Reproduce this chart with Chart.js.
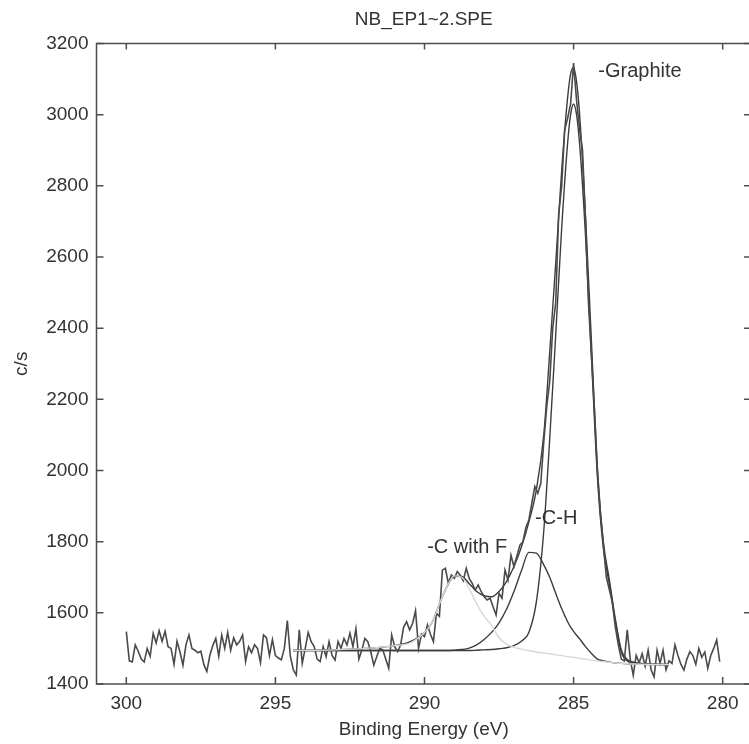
<!DOCTYPE html>
<html>
<head>
<meta charset="utf-8">
<script src="https://cdn.jsdelivr.net/npm/chart.js@4/dist/chart.umd.min.js"></script>
<style>
  html, body { margin: 0; padding: 0; background: #fff; overflow: hidden; }
  #wrap { width: 760px; height: 744px; }
</style>
</head>
<body>
<div id="wrap"><canvas id="speChart" width="760" height="744"></canvas></div>
<script>
// measured spectrum, 300.0 eV down to 280.1 eV in 0.1 eV steps
const rawStart = 300.0;
const rawStep = 0.1;
const rawCounts = [
  1547, 1465, 1462, 1510, 1492, 1470, 1462, 1500, 1478, 1542,
  1515, 1550, 1520, 1548, 1505, 1500, 1455, 1520, 1490, 1453,
  1510, 1538, 1500, 1495, 1488, 1492, 1455, 1435, 1480, 1508,
  1528, 1478, 1538, 1500, 1545, 1495, 1530, 1510, 1520, 1538,
  1463, 1505, 1488, 1510, 1500, 1460, 1538, 1530, 1480, 1525,
  1480, 1473, 1468, 1500, 1578, 1478, 1440, 1425, 1552, 1458,
  1500, 1545, 1519, 1505, 1470, 1463, 1505, 1477, 1519, 1480,
  1467, 1519, 1500, 1528, 1510, 1543, 1505, 1555, 1470, 1496,
  1528, 1519, 1490, 1453, 1477, 1500, 1496, 1470, 1444, 1538,
  1505, 1491, 1510, 1560, 1575, 1552, 1570, 1606, 1500, 1540,
  1533, 1566, 1540, 1519, 1599, 1590, 1720, 1725, 1683, 1706,
  1697, 1716, 1706, 1690, 1725, 1697, 1683, 1664, 1678, 1660,
  1645, 1636, 1641, 1617, 1594, 1655, 1641, 1720, 1692, 1762,
  1730, 1760, 1790, 1800, 1840, 1861, 1908, 1955, 1936, 1964,
  2080, 2180, 2250, 2400, 2470, 2720, 2800, 2957, 2990, 3030,
  3145, 3040, 2960, 2900, 2700, 2470, 2320, 2170, 2000, 1880,
  1790, 1700, 1665, 1630, 1560, 1510, 1470, 1465, 1552, 1470,
  1425, 1480, 1460, 1485, 1450, 1495, 1440, 1420, 1495, 1458,
  1495, 1440, 1465, 1458, 1510, 1480, 1455, 1439, 1470, 1491,
  1480, 1455, 1500, 1475, 1490, 1444, 1480, 1500, 1524, 1463
];

// fit curves, sampled at these energies
const fitEnergy = [
  294.4, 293, 292, 291, 290.5, 290, 289.75, 289.5, 289.25, 289,
  288.75, 288.5, 288.25, 288, 287.75, 287.5, 287.25, 287, 286.75, 286.5,
  286.25, 286, 285.8, 285.6, 285.4, 285.2, 285.1, 285, 284.9, 284.8,
  284.6, 284.4, 284.2, 284, 283.8, 283.6, 283.4, 283.2, 283, 282.5,
  282, 281.8
];
const envelope = [
  1494, 1496, 1500, 1508, 1518, 1545, 1572, 1625, 1673, 1703,
  1702, 1682, 1660, 1648, 1645, 1660, 1688, 1730, 1785, 1855,
  1945, 2100, 2333, 2581, 2842, 3048, 3114, 3133, 3093, 3003,
  2716, 2359, 2003, 1798, 1693, 1583, 1496, 1469, 1462, 1456,
  1455, 1455
];
const graphitePeak = [
  1494, 1494, 1494, 1494, 1494, 1494, 1494, 1494, 1494, 1494,
  1494, 1494, 1495, 1496, 1497, 1499, 1502, 1508, 1520, 1545,
  1630, 1830, 2090, 2380, 2680, 2920, 3000, 3030, 3000, 2920,
  2660, 2320, 1980, 1780, 1680, 1575, 1490, 1465, 1460, 1456,
  1455, 1455
];
const chPeak = [
  1494, 1494, 1494, 1494, 1494, 1494, 1494, 1494, 1494, 1495,
  1497, 1501, 1510, 1525, 1545, 1572, 1610, 1660, 1718, 1770,
  1768, 1735, 1700, 1655, 1612, 1575, 1560, 1548, 1537, 1527,
  1505, 1486, 1470, 1465, 1462, 1459, 1458, 1457, 1456, 1455,
  1455, 1455
];
const cfPeak = [
  1494, 1496, 1500, 1508, 1515, 1545, 1572, 1625, 1673, 1704,
  1700, 1668, 1625, 1590, 1565, 1530, 1512, 1503, 1498, 1494,
  1490, 1487, 1485, 1482, 1480, 1477, 1476, 1475, 1474, 1472,
  1470, 1467, 1465, 1463, 1461, 1459, 1458, 1457, 1456, 1455,
  1455, 1455
];

const xTicks = [300, 295, 290, 285, 280];
const yTicks = [1400, 1600, 1800, 2000, 2200, 2400, 2600, 2800, 3000, 3200];

const peakNames = ["-Graphite", "-C-H", "-C with F"];
const peakNameEnergy = [284.17, 286.29, 289.91];
const peakNameCounts = [3122, 1864, 1784];

const FONT = "'Liberation Sans', Arial, sans-serif";
const INK = "#333";
const LINE = "#4a4a4a";

const toPoints = (xs, ys) => ys.map((v, i) => ({ x: xs[i], y: v }));
const rawPoints = rawCounts.map((v, i) => ({
  x: +(rawStart - i * rawStep).toFixed(1),
  y: v,
}));

// box, inward ticks on all four sides, and the peak names
const framePlugin = {
  id: "frame",
  afterDatasetsDraw(chart) {
    const { ctx, chartArea: a } = chart;
    const xs = chart.scales.x;
    const ys = chart.scales.y;
    ctx.save();
    ctx.strokeStyle = "#4d4d4d";
    ctx.lineWidth = 1.5;
    ctx.strokeRect(a.left, a.top, a.right - a.left, a.bottom - a.top);
    ctx.beginPath();
    xTicks.forEach((v) => {
      const px = xs.getPixelForValue(v);
      ctx.moveTo(px, a.bottom);
      ctx.lineTo(px, a.bottom - 7);
      ctx.moveTo(px, a.top);
      ctx.lineTo(px, a.top + 6);
    });
    yTicks.forEach((v) => {
      const py = ys.getPixelForValue(v);
      ctx.moveTo(a.left, py);
      ctx.lineTo(a.left + 7, py);
      ctx.moveTo(a.right, py);
      ctx.lineTo(a.right - 7, py);
    });
    ctx.stroke();

    ctx.fillStyle = INK;
    ctx.font = "20px " + FONT;
    ctx.textAlign = "left";
    ctx.textBaseline = "middle";
    peakNames.forEach((t, i) => {
      ctx.fillText(
        t,
        xs.getPixelForValue(peakNameEnergy[i]),
        ys.getPixelForValue(peakNameCounts[i])
      );
    });
    ctx.restore();
  },
};

const fitLine = (data, color) => ({
  data,
  borderColor: color,
  borderWidth: 1.4,
  pointRadius: 0,
  cubicInterpolationMode: "monotone",
  fill: false,
});

new Chart(document.getElementById("speChart"), {
  type: "line",
  data: {
    datasets: [
      fitLine(toPoints(fitEnergy, cfPeak), "#d8d8d8"),
      {
        data: rawPoints,
        borderColor: LINE,
        borderWidth: 1.6,
        pointRadius: 0,
        tension: 0,
        fill: false,
      },
      fitLine(toPoints(fitEnergy, chPeak), "#3c3c3c"),
      fitLine(toPoints(fitEnergy, graphitePeak), "#3c3c3c"),
      fitLine(toPoints(fitEnergy, envelope), "#3c3c3c"),
    ],
  },
  options: {
    responsive: false,
    animation: false,
    layout: { padding: { left: 0, right: 9, top: 0, bottom: 0 } },
    plugins: {
      legend: { display: false },
      tooltip: { enabled: false },
      title: {
        display: true,
        text: "NB_EP1~2.SPE",
        fullSize: false,
        color: INK,
        font: { family: FONT, size: 19, weight: "normal" },
        padding: { top: 8.6, bottom: 12.1 },
      },
    },
    scales: {
      x: {
        type: "linear",
        reverse: true,
        min: 279.05,
        max: 301,
        afterBuildTicks: (s) => {
          s.ticks = xTicks.map((v) => ({ value: v }));
        },
        afterFit: (s) => {
          s.height = 60;
        },
        grid: { display: false, drawTicks: false },
        border: { display: false },
        ticks: {
          color: INK,
          padding: 8,
          font: { family: FONT, size: 19 },
          callback: (v) => String(v),
        },
        title: {
          display: true,
          text: "Binding Energy (eV)",
          color: INK,
          font: { family: FONT, size: 19 },
          padding: { top: 0, bottom: 3 },
        },
      },
      y: {
        min: 1400,
        max: 3200,
        afterBuildTicks: (s) => {
          s.ticks = yTicks.map((v) => ({ value: v }));
        },
        afterFit: (s) => {
          s.width = 96.5;
        },
        grid: { display: false, drawTicks: false },
        border: { display: false },
        ticks: {
          color: INK,
          padding: 8,
          font: { family: FONT, size: 19 },
          callback: (v) => String(v),
        },
        title: {
          display: true,
          text: "c/s",
          color: INK,
          font: { family: FONT, size: 19 },
          padding: { top: 10, bottom: 0 },
        },
      },
    },
  },
  plugins: [framePlugin],
});
</script>
</body>
</html>
